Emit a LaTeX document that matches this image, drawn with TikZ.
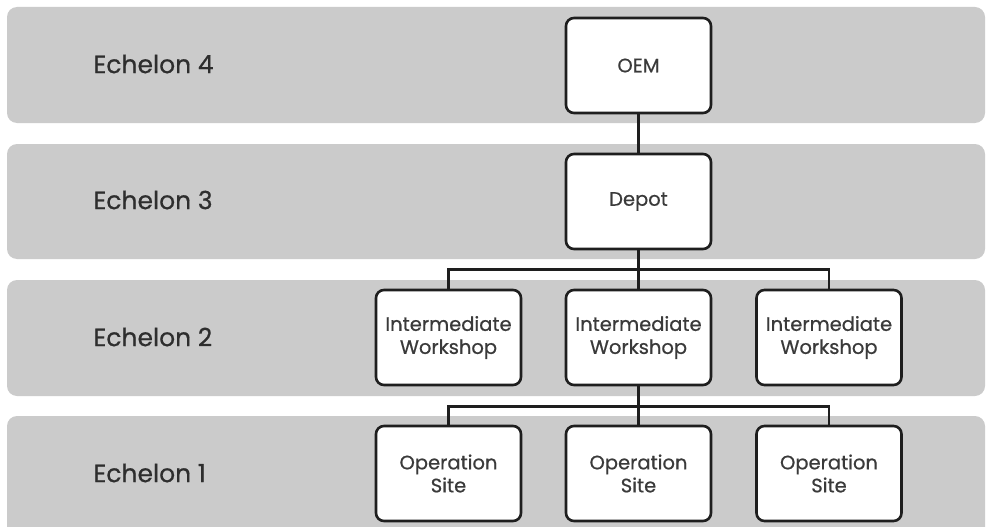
\documentclass[tikz,border=0pt]{standalone}
\usepackage{fontspec}
\setmainfont{Poppins}[FakeBold=0.6]
\begin{document}
\begin{tikzpicture}[x=1pt,y=-1pt,
  band/.style={fill=bandgray, draw=none, rounded corners=10pt},
  level/.style={anchor=west, text=labelgray, font=\fontsize{25}{30}\selectfont},
  unit/.style={draw=boxline, line width=2.6pt, fill=white, rounded corners=8pt,
    minimum width=145pt, minimum height=95pt, align=center, inner sep=0pt,
    text=boxtext, font=\fontsize{19.5}{23}\selectfont},
  link/.style={draw=boxline, line width=2.6pt}]
\definecolor{bandgray}{HTML}{CBCBCB}
\definecolor{labelgray}{HTML}{2E2E2E}
\definecolor{boxline}{HTML}{1E1E1E}
\definecolor{boxtext}{HTML}{3A3A3A}
\useasboundingbox (0,0) rectangle (986,527);
\clip (0,0) rectangle (986,527);

% echelon bands
\fill[band] (7,7) rectangle (985,123);
\fill[band] (7,144) rectangle (985,259);
\fill[band] (7,280) rectangle (985,396);
\fill[band] (7,416) rectangle (985,545);

% echelon labels
\node[level] (e4) at (90,64) {Echelon 4};
\node[level] (e3) at (90,200) {Echelon 3};
\node[level] (e2) at (90,337) {Echelon 2};
\node[level] (e1) at (90,473) {Echelon 1};

% support units
\node[unit] (oem) at (638.5,65.5) {OEM};
\node[unit] (depot) at (638.5,201.5) {Depot};
\node[unit] (w1) at (448.5,337.5) {Intermediate\\Workshop};
\node[unit] (w2) at (638.5,337.5) {Intermediate\\Workshop};
\node[unit] (w3) at (829,337.5) {Intermediate\\Workshop};
\node[unit] (s1) at (448.5,473.5) {Operation\\Site};
\node[unit] (s2) at (638.5,473.5) {Operation\\Site};
\node[unit] (s3) at (829,473.5) {Operation\\Site};

% branching points
\coordinate (j1) at (638.5,269.5);
\coordinate (j2) at (638.5,406.5);

% connectors
\draw[link] (oem.south) -- (depot.north);
\draw[link] (depot.south) -- (w2.north);
\draw[link] (w1.north) |- (j1) -| (w3.north);
\draw[link] (w2.south) -- (s2.north);
\draw[link] (s1.north) |- (j2) -| (s3.north);
\end{tikzpicture}
\end{document}
